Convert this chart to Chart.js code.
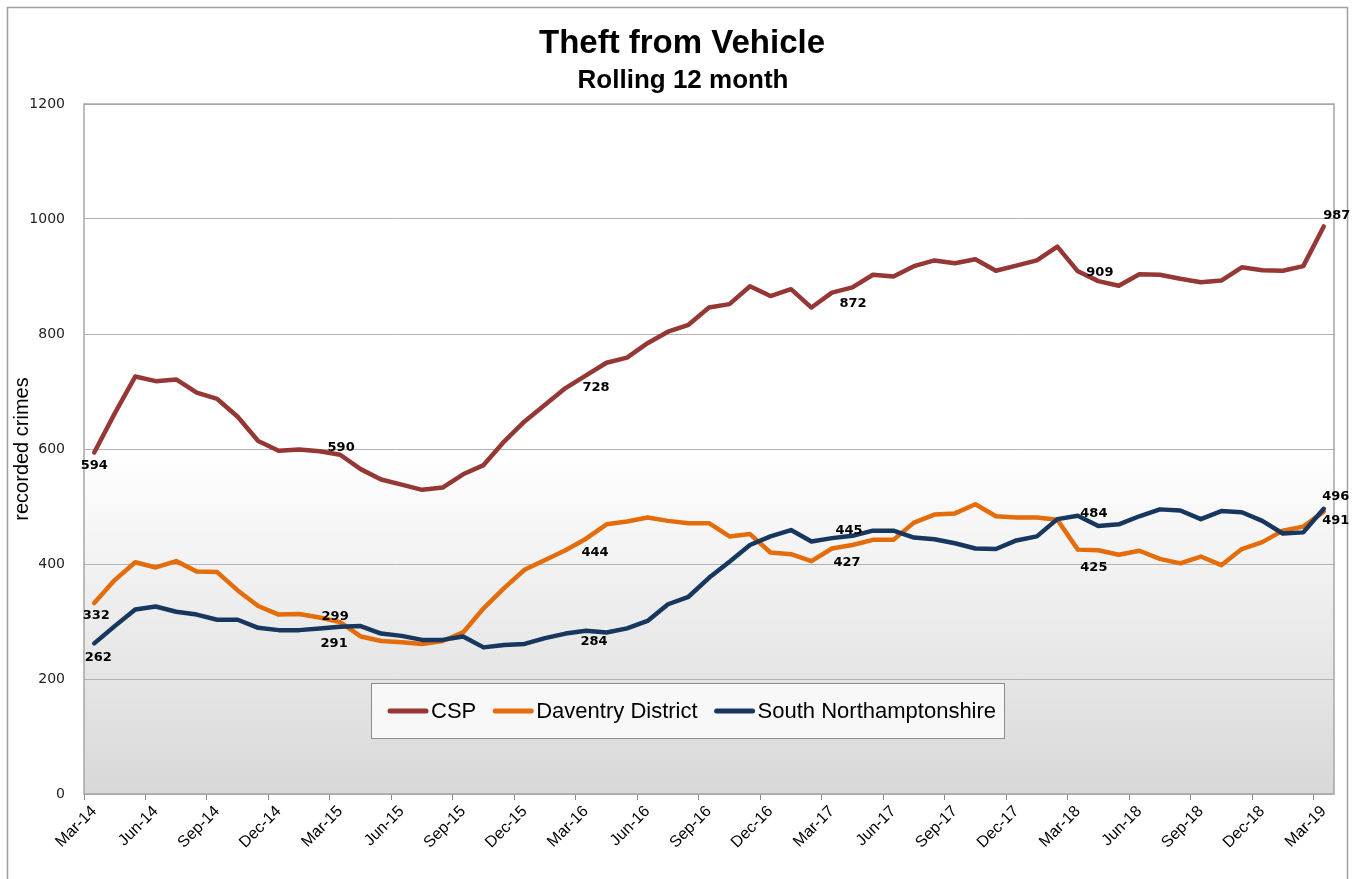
<!DOCTYPE html>
<html>
<head>
<meta charset="utf-8">
<script src="https://cdn.jsdelivr.net/npm/chart.js@4.4.0/dist/chart.umd.min.js"></script>
<style>
html,body{margin:0;padding:0;background:#fff;}
#wrap{width:1356px;height:879px;position:relative;}
</style>
</head>
<body>
<div id="wrap"><canvas id="c" width="1356" height="879"></canvas></div>
<script>
const months = [
  'Mar-14','Apr-14','May-14','Jun-14','Jul-14','Aug-14','Sep-14','Oct-14','Nov-14','Dec-14','Jan-15','Feb-15',
  'Mar-15','Apr-15','May-15','Jun-15','Jul-15','Aug-15','Sep-15','Oct-15','Nov-15','Dec-15','Jan-16','Feb-16',
  'Mar-16','Apr-16','May-16','Jun-16','Jul-16','Aug-16','Sep-16','Oct-16','Nov-16','Dec-16','Jan-17','Feb-17',
  'Mar-17','Apr-17','May-17','Jun-17','Jul-17','Aug-17','Sep-17','Oct-17','Nov-17','Dec-17','Jan-18','Feb-18',
  'Mar-18','Apr-18','May-18','Jun-18','Jul-18','Aug-18','Sep-18','Oct-18','Nov-18','Dec-18','Jan-19','Feb-19',
  'Mar-19'
];
const cspValues = [
  594,662,726,718,721,698,687,656,614,597,599,596,
  590,565,547,538,529,533,556,572,613,648,677,706,
  728,750,759,784,804,816,846,852,883,866,878,846,
  872,881,903,900,918,928,923,930,910,919,928,952,
  909,892,884,904,903,896,890,893,916,911,910,918,
  987
];
const daventryValues = [
  332,372,403,394,405,387,386,354,327,312,313,307,
  299,274,266,264,261,266,281,323,358,390,407,424,
  444,469,474,481,475,471,471,448,452,420,417,405,
  427,433,442,442,472,486,488,504,483,481,481,477,
  425,424,416,423,409,401,413,398,426,438,458,465,
  491
];
const southNorthantsValues = [
  262,292,321,326,317,312,303,303,289,285,285,288,
  291,292,279,275,268,268,274,255,259,261,271,279,
  284,281,288,301,330,343,376,404,433,448,459,439,
  445,449,458,458,446,443,436,427,426,441,448,478,
  484,466,469,483,495,493,478,492,490,475,453,455,
  496
];
const seriesNames = ['CSP','Daventry District','South Northamptonshire'];
const labelledIndices = [0,12,24,36,48,60];
const yTicks = [0,200,400,600,800,1000,1200];
const titleText = 'Theft from Vehicle';
const subtitleText = 'Rolling 12 month';
const yAxisTitle = 'recorded crimes';

// label placement (style only): [dx, dy] offsets from point
const labelOffsets = [
  [[0,13],[1,-7],[10,12],[21,11],[22,1],[13,-11]],
  [[2,13],[-5,-5],[9,14],[15,14],[16,18],[12,9]],
  [[4,14],[-6,17],[8,11],[17,-8],[16,-2],[12,-12]]
];
const colors = ['#953735','#E46C0A','#17375E'];

const bgPlugin = {
  id:'bgPlugin',
  beforeDraw(chart){
    const {ctx, chartArea:a} = chart;
    ctx.save();
    ctx.fillStyle = '#ffffff';
    ctx.fillRect(0,0,chart.width,chart.height);
    ctx.strokeStyle = '#a0a0a0';
    ctx.lineWidth = 1.5;
    ctx.strokeRect(7.5,7.5,1340,880);
    const yStart = chart.scales.y.getPixelForValue(600);
    const g = ctx.createLinearGradient(0,yStart,0,a.bottom);
    g.addColorStop(0,'#ffffff');
    g.addColorStop(1,'#d8d8d8');
    ctx.fillStyle = '#ffffff';
    ctx.fillRect(a.left,a.top,a.width,a.height);
    ctx.fillStyle = g;
    ctx.fillRect(a.left,yStart,a.width,a.bottom-yStart);
    // titles
    ctx.fillStyle = '#000';
    ctx.textAlign = 'center';
    ctx.textBaseline = 'alphabetic';
    ctx.font = 'bold 33px "Liberation Sans"';
    ctx.fillText(titleText, 682, 52.5);
    ctx.font = 'bold 26px "Liberation Sans"';
    ctx.fillText(subtitleText, 683, 88);
    ctx.restore();
  },
  beforeDatasetsDraw(chart){
    const {ctx, chartArea:a} = chart;
    ctx.save();
    ctx.strokeStyle = '#a6a6a6';
    ctx.lineWidth = 1.5;
    ctx.strokeRect(a.left,a.top,a.width,a.height);
    ctx.restore();
  }
};

const valueLabels = {
  id:'valueLabels',
  afterDatasetsDraw(chart){
    const ctx = chart.ctx;
    ctx.save();
    ctx.font = 'bold 13px "DejaVu Sans"';
    ctx.fillStyle = '#000';
    ctx.textAlign = 'center';
    ctx.textBaseline = 'middle';
    chart.data.datasets.forEach((ds,di)=>{
      const meta = chart.getDatasetMeta(di);
      labelledIndices.forEach((idx,k)=>{
        const p = meta.data[idx];
        const off = labelOffsets[di][k];
        ctx.fillText(String(ds.data[idx]), p.x+off[0], p.y+off[1]);
      });
    });
    ctx.restore();
  }
};

const boxLegend = {
  id:'boxLegend',
  afterDraw(chart){
    const ctx = chart.ctx;
    const bx = 371, by = 683, bw = 633, bh = 55;
    ctx.save();
    ctx.fillStyle = '#f8f8f8';
    ctx.fillRect(bx,by,bw,bh);
    ctx.strokeStyle = '#8c8c8c';
    ctx.lineWidth = 1;
    ctx.strokeRect(bx+0.5,by+0.5,bw,bh);
    ctx.font = '22px "Liberation Sans"';
    ctx.textBaseline = 'middle';
    ctx.textAlign = 'left';
    let x = 390;
    const cy = by + 28;
    chart.data.datasets.forEach((ds)=>{
      ctx.strokeStyle = ds.borderColor;
      ctx.lineWidth = 5;
      ctx.lineCap = 'round';
      ctx.beginPath();
      ctx.moveTo(x,cy);
      ctx.lineTo(x+36,cy);
      ctx.stroke();
      ctx.fillStyle = '#000';
      ctx.fillText(ds.label, x+41, cy+1);
      x += 41 + ctx.measureText(ds.label).width + 19;
    });
    ctx.restore();
  }
};

const chart = new Chart(document.getElementById('c'), {
  type:'line',
  data:{
    labels: months,
    datasets:[
      {label:seriesNames[0], data:cspValues, borderColor:colors[0], order:2},
      {label:seriesNames[1], data:daventryValues, borderColor:colors[1], order:1},
      {label:seriesNames[2], data:southNorthantsValues, borderColor:colors[2], order:0}
    ]
  },
  options:{
    responsive:false,
    animation:false,
    devicePixelRatio:1,
    layout:{padding:{left:0,right:22,top:104,bottom:0}},
    elements:{
      line:{borderWidth:4.5, tension:0, borderJoinStyle:'round', borderCapStyle:'round', fill:false},
      point:{radius:0, hoverRadius:0}
    },
    plugins:{
      legend:{display:false},
      tooltip:{enabled:false},
      title:{display:false},
      subtitle:{display:false}
    },
    scales:{
      x:{
        type:'category',
        offset:true,
        border:{display:false},
        grid:{
          offset:true, drawOnChartArea:false, drawTicks:true, tickLength:6, lineWidth:1,
          color:(c)=> (c.index % 3 === 0 ? '#888888' : 'rgba(0,0,0,0)')
        },
        ticks:{
          autoSkip:false, maxRotation:45, minRotation:45, padding:2,
          color:'#000', font:{family:'"Liberation Sans"', size:16},
          callback:function(v,i){ return i % 3 === 0 ? months[i] : ''; }
        },
        afterFit:(s)=>{ s.height = 85; }
      },
      y:{
        min:0, max:1200,
        border:{display:false},
        afterBuildTicks:(s)=>{ s.ticks = yTicks.map(v=>({value:v})); },
        grid:{color:'#b3b3b3', lineWidth:1, drawTicks:false},
        ticks:{color:'#222', padding:19, font:{family:'"DejaVu Sans"', size:14},
          callback:(v)=>String(v)},
        title:{display:true, text:yAxisTitle, color:'#000', font:{family:'"Liberation Sans"', size:20}, padding:{top:10,bottom:0}},
        afterFit:(s)=>{ s.width = 84; }
      }
    }
  },
  plugins:[bgPlugin, valueLabels, boxLegend]
});
</script>
</body>
</html>
